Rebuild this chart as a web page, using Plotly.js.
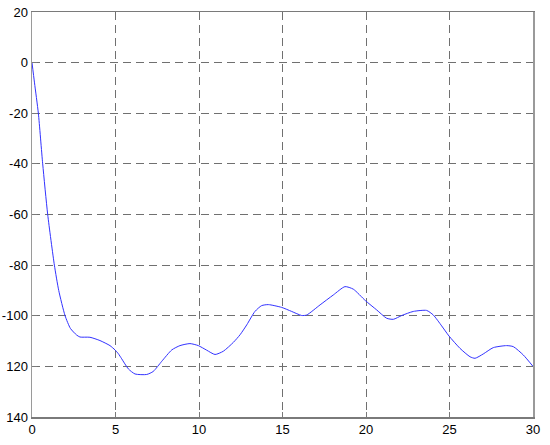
<!DOCTYPE html>
<html>
<head>
<meta charset="utf-8">
<script src="https://cdn.plot.ly/plotly-3.0.1.min.js"></script>
<style>html,body{margin:0;padding:0;background:#fff;}#chart{width:550px;height:445px;}</style>
</head>
<body>
<div id="chart"></div>
<script>
var xValues = [0, 0.15, 0.38, 0.64, 0.94, 1.34, 1.6, 1.98, 2.3, 2.67, 2.87, 3.47, 4.07, 4.67, 4.97, 5.17, 5.37, 5.77, 6.17, 6.87, 7.26, 7.77, 8.37, 8.86, 9.46, 9.96, 10.46, 10.96, 11.46, 12.06, 12.46, 12.86, 13.35, 13.75, 14.15, 14.95, 15.55, 16.15, 16.45, 17.25, 18.04, 18.74, 19.24, 19.96, 20.64, 21.24, 21.64, 22.14, 22.83, 23.63, 24.03, 24.53, 24.97, 25.63, 26.23, 26.53, 27.02, 27.62, 28.42, 28.82, 29.42, 30];
var yValues = [0, -8, -20, -40, -60, -80, -90, -100, -105, -107.6, -108.4, -108.5, -109.8, -111.8, -113.5, -115, -117, -121, -123, -123.2, -122, -118, -113.5, -111.8, -111, -111.8, -113.6, -115.3, -114, -110.5, -107.5, -103.6, -98.3, -96, -95.6, -96.7, -98.3, -99.9, -99.7, -95.7, -91.8, -88.5, -89.5, -94, -97.7, -101, -101.4, -99.9, -98.3, -97.9, -99.7, -104, -108, -112.9, -116.2, -116.8, -115.1, -112.6, -111.8, -112.2, -115.5, -120];
var xTickVals = [0, 5, 10, 15, 20, 25, 30];
var yTickVals = [20, 0, -20, -40, -60, -80, -100, -120, -140];
var yTickText = ["20", "0", "-20", "-40", "-60", "-80", "-100", "120", "140"];

var trace = {
  x: xValues, y: yValues, type: 'scatter', mode: 'lines',
  line: {color: 'rgb(50,50,255)', width: 1, shape: 'spline', smoothing: 0.6},
  hoverinfo: 'skip'
};
var layout = {
  width: 550, height: 445,
  margin: {l: 32, r: 17, t: 12, b: 28, pad: 0},
  paper_bgcolor: '#ffffff', plot_bgcolor: '#ffffff',
  showlegend: false,
  font: {family: 'Liberation Sans, Arial, sans-serif', size: 13, color: '#000'},
  xaxis: {
    range: [0, 30], tickvals: xTickVals, ticktext: xTickVals.map(String),
    showgrid: true, gridcolor: '#707070', griddash: '8px,5px', gridwidth: 1,
    showline: true, linecolor: '#7a7a7a', linewidth: 1.5, mirror: true,
    ticks: 'inside', ticklen: 5, tickcolor: '#7a7a7a',
    zeroline: false, fixedrange: true
  },
  yaxis: {
    range: [-140, 20], tickvals: yTickVals, ticktext: yTickText,
    showgrid: true, gridcolor: '#707070', griddash: '8px,5px', gridwidth: 1,
    showline: true, linecolor: '#9a9a9a', linewidth: 1.5, mirror: true,
    ticks: 'inside', ticklen: 5, tickcolor: '#7a7a7a',
    zeroline: false, fixedrange: true
  }
};
Plotly.newPlot('chart', [trace], layout, {staticPlot: true, displayModeBar: false});
</script>
</body>
</html>
